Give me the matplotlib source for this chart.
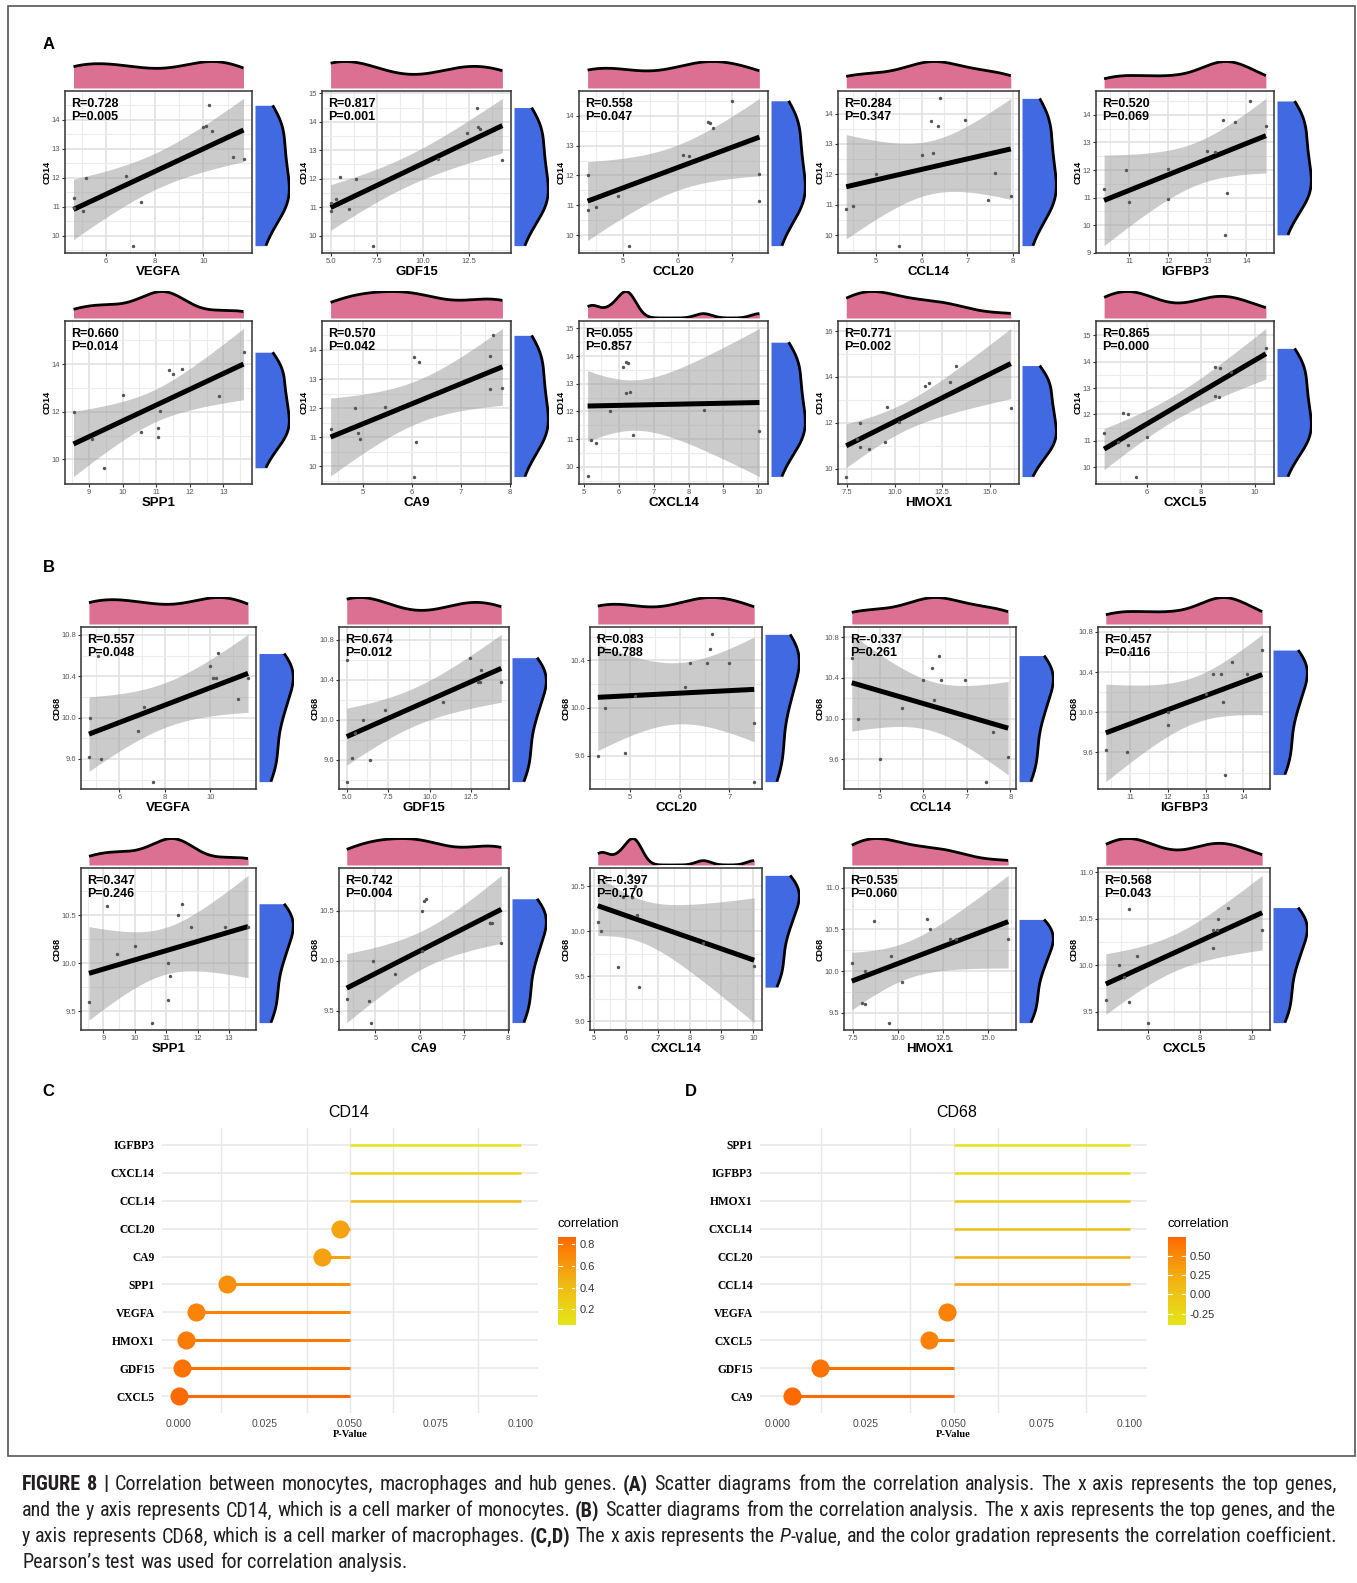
import re
from math import gamma, pi, sqrt

import numpy as np
import matplotlib
matplotlib.use("Agg")
import matplotlib.pyplot as plt
from matplotlib import font_manager
from matplotlib.font_manager import FontProperties
from matplotlib.colors import LinearSegmentedColormap, Normalize
from matplotlib.patches import Rectangle
from matplotlib.ticker import MultipleLocator, FuncFormatter

plt.rcParams["font.family"] = ["Liberation Sans", "DejaVu Sans"]

FIG_W, FIG_H = 1357, 1583

# ---------------------------------------------------------------------------
# Expression values, one entry per sample (same sample order in every list)
# ---------------------------------------------------------------------------
cd14 = [9.65, 10.85, 10.95, 11.15, 11.30, 12.00, 12.05, 12.65, 12.70, 13.60, 13.75, 13.80, 14.50]
cd68 = [10.10, 10.60, 10.00, 9.38, 9.62, 9.60, 9.87, 10.38, 10.18, 10.62, 10.50, 10.38, 10.38]

vegfa = [7.10, 5.07, 4.70, 7.46, 4.67, 5.18, 6.84, 11.65, 11.20, 10.35, 9.97, 10.10, 10.24]
gdf15 = [7.30, 5.00, 6.00, 5.00, 5.30, 6.40, 5.50, 14.30, 10.80, 12.40, 13.10, 13.00, 12.90]
ccl20 = [5.10, 4.35, 4.50, 7.50, 4.90, 4.35, 7.50, 6.20, 6.10, 6.65, 6.60, 6.55, 7.00]
ccl14 = [5.50, 4.35, 4.50, 7.45, 7.95, 5.00, 7.60, 6.00, 6.25, 6.35, 6.20, 6.95, 6.40]
igfbp3 = [13.45, 11.00, 12.00, 13.50, 10.35, 10.90, 12.00, 13.20, 13.00, 14.50, 13.70, 13.40, 14.10]
spp1 = [9.44, 9.10, 11.05, 10.56, 11.05, 8.54, 11.12, 12.88, 10.01, 11.50, 11.37, 11.77, 13.60]
ca9 = [6.05, 6.10, 4.95, 4.90, 4.35, 4.85, 5.45, 7.60, 7.85, 6.15, 6.05, 7.60, 7.65]
cxcl14 = [5.11, 5.34, 5.21, 6.40, 10.03, 5.74, 8.43, 6.20, 6.33, 6.12, 6.27, 6.20, 5.90]
hmox1 = [7.45, 8.66, 8.20, 9.50, 8.00, 8.20, 10.20, 16.10, 9.60, 11.60, 11.80, 12.90, 13.20]
cxcl5 = [5.60, 5.30, 4.90, 6.00, 4.40, 5.30, 5.10, 8.65, 8.50, 9.10, 8.70, 8.50, 10.40]

genes = ["VEGFA", "GDF15", "CCL20", "CCL14", "IGFBP3",
         "SPP1", "CA9", "CXCL14", "HMOX1", "CXCL5"]
gene_values = [vegfa, gdf15, ccl20, ccl14, igfbp3, spp1, ca9, cxcl14, hmox1, cxcl5]
x_tick_step = [2, 2.5, 1, 1, 1, 1, 1, 1, 2.5, 2]

# Pearson statistics printed on each scatter
r_cd14 = [0.728, 0.817, 0.558, 0.284, 0.520, 0.660, 0.570, 0.055, 0.771, 0.865]
p_cd14 = [0.005, 0.001, 0.047, 0.347, 0.069, 0.014, 0.042, 0.857, 0.002, 0.000]
r_cd68 = [0.557, 0.674, 0.083, -0.337, 0.457, 0.347, 0.742, -0.397, 0.535, 0.568]
p_cd68 = [0.048, 0.012, 0.788, 0.261, 0.116, 0.246, 0.004, 0.170, 0.060, 0.043]
y_tick_step_cd14 = [1, 1, 1, 1, 1, 2, 1, 1, 2, 1]
y_tick_step_cd68 = [0.4, 0.4, 0.4, 0.4, 0.4, 0.5, 0.5, 0.5, 0.5, 0.5]

# Lollipop summaries (listed bottom to top)
cd14_rank_genes = ["CXCL5", "GDF15", "HMOX1", "VEGFA", "SPP1", "CA9", "CCL20",
                   "CCL14", "CXCL14", "IGFBP3"]
cd14_rank_p = [0.000, 0.001, 0.002, 0.005, 0.014, 0.042, 0.047, 0.347, 0.857, 0.069]
cd14_rank_corr = [0.865, 0.817, 0.771, 0.728, 0.660, 0.570, 0.558, 0.400, 0.200, 0.055]

cd68_rank_genes = ["CA9", "GDF15", "CXCL5", "VEGFA", "CCL14", "CCL20", "CXCL14",
                   "HMOX1", "IGFBP3", "SPP1"]
cd68_rank_p = [0.004, 0.012, 0.043, 0.048, 0.261, 0.788, 0.170, 0.060, 0.116, 0.246]
cd68_rank_corr = [0.742, 0.674, 0.568, 0.557, 0.300, 0.200, 0.050, -0.100, -0.300, -0.397]

p_axis_ticks = [0.0, 0.025, 0.05, 0.075, 0.1]
cd14_bar_ticks = [0.2, 0.4, 0.6, 0.8]
cd68_bar_ticks = [-0.25, 0.0, 0.25, 0.5]

caption_lines = [
    "**FIGURE 8 |** Correlation between monocytes, macrophages and hub genes. **(A)** Scatter diagrams "
    "from the correlation analysis. The x axis represents the top genes,",
    "and the y axis represents CD14, which is a cell marker of monocytes. **(B)** Scatter diagrams from "
    "the correlation analysis. The x axis represents the top genes, and the",
    "y axis represents CD68, which is a cell marker of macrophages. **(C,D)** The x axis represents the "
    "*P*-value, and the color gradation represents the correlation coefficient.",
    "Pearson\u2019s test was used for correlation analysis.",
]

# ---------------------------------------------------------------------------
PINK = "#DB7093"
BLUE = "#4169E1"
CMAP = LinearSegmentedColormap.from_list("corr", ["#e6e619", "#f2b516", "#ff6a00"])
SERIF = ["Liberation Serif", "DejaVu Serif"]

fig = plt.figure(figsize=(FIG_W / 100, FIG_H / 100), dpi=100)
fig.patch.set_facecolor("white")


def px_axes(x0, y0, x1, y1):
    return fig.add_axes([x0 / FIG_W, 1 - y1 / FIG_H, (x1 - x0) / FIG_W, (y1 - y0) / FIG_H])


def fig_text(x, y, s, **kw):
    return fig.text(x / FIG_W, 1 - y / FIG_H, s, **kw)


def t_quantile(prob, df):
    xs = np.linspace(0, 40, 400001)
    c = gamma((df + 1) / 2) / (sqrt(df * pi) * gamma(df / 2))
    pdf = c * (1 + xs ** 2 / df) ** (-(df + 1) / 2)
    cdf = 0.5 + np.concatenate([[0.0], np.cumsum((pdf[1:] + pdf[:-1]) / 2 * np.diff(xs))])
    return float(np.interp(prob, cdf, xs))


def bw_nrd0(v):
    sd = v.std(ddof=1)
    q75, q25 = np.percentile(v, [75, 25])
    lo = min(sd, (q75 - q25) / 1.34)
    if lo <= 0:
        lo = sd
    return 0.9 * lo * len(v) ** -0.2


def kde(v, grid):
    bw = bw_nrd0(v)
    z = (grid[:, None] - v[None, :]) / bw
    return np.exp(-0.5 * z ** 2).sum(axis=1) / (len(v) * bw * sqrt(2 * pi))


def tick_formatter(step):
    dec = 0 if float(step).is_integer() else 1
    return FuncFormatter(lambda v, _: f"{v:.{dec}f}")


def scatter_panel(box, x, y, xlab, ylab, r, p, xstep, ystep):
    x0, y0, x1, y1 = box
    x = np.asarray(x, float)
    y = np.asarray(y, float)
    n = len(x)

    ax = px_axes(x0, y0, x1, y1)
    slope, intercept = np.polyfit(x, y, 1)
    xs = np.linspace(x.min(), x.max(), 80)
    fit = intercept + slope * xs
    resid = y - (intercept + slope * x)
    s = sqrt((resid ** 2).sum() / (n - 2))
    sxx = ((x - x.mean()) ** 2).sum()
    se = s * np.sqrt(1 / n + (xs - x.mean()) ** 2 / sxx)
    tq = t_quantile(0.975, n - 2)
    lo, hi = fit - tq * se, fit + tq * se

    ax.fill_between(xs, lo, hi, color="#999999", alpha=0.5, lw=0, zorder=2)
    ax.plot(xs, fit, color="black", lw=3.6, zorder=3, solid_capstyle="butt")
    ax.scatter(x, y, s=6, color="#555555", lw=0, zorder=4)

    xr = x.max() - x.min()
    xlim = (x.min() - 0.05 * xr, x.max() + 0.05 * xr)
    ymin, ymax = min(y.min(), lo.min()), max(y.max(), hi.max())
    yr = ymax - ymin
    ylim = (ymin - 0.05 * yr, ymax + 0.05 * yr)
    ax.set_xlim(xlim)
    ax.set_ylim(ylim)

    ax.xaxis.set_major_locator(MultipleLocator(xstep))
    ax.xaxis.set_minor_locator(MultipleLocator(xstep / 2))
    ax.yaxis.set_major_locator(MultipleLocator(ystep))
    ax.yaxis.set_minor_locator(MultipleLocator(ystep / 2))
    ax.xaxis.set_major_formatter(tick_formatter(xstep))
    ax.yaxis.set_major_formatter(tick_formatter(ystep))
    ax.set_axisbelow(True)
    ax.grid(which="major", color="#e2e2e2", lw=1.2)
    ax.grid(which="minor", color="#ececec", lw=0.8)
    ax.tick_params(which="major", length=2.5, width=0.8, color="#333333",
                   labelsize=5.5, labelcolor="#555555", pad=1)
    ax.tick_params(which="minor", length=0)
    for sp in ax.spines.values():
        sp.set_color("#333333")
        sp.set_linewidth(1.1)
    ax.set_xlabel(xlab, fontsize=9.5, fontweight="bold", labelpad=1)
    ax.set_ylabel(ylab, fontsize=6.5, fontweight="bold", labelpad=0)
    ax.text(0.035, 0.955, f"R={r:.3f}\nP={p:.3f}", transform=ax.transAxes,
            ha="left", va="top", fontsize=9, fontweight="bold", linespacing=1.1, zorder=6)

    # marginal density along x
    axt = px_axes(x0, y0 - 30, x1, y0 - 3)
    gx = np.linspace(x.min(), x.max(), 256)
    dx = kde(x, gx)
    axt.fill_between(gx, 0, dx, color=PINK, lw=0)
    axt.plot(gx, dx, color="black", lw=2.0, solid_capstyle="butt")
    axt.set_xlim(xlim)
    axt.set_ylim(0, dx.max() * 1.02)
    axt.axis("off")

    # marginal density along y
    axr = px_axes(x1 + 3, y0, x1 + 38, y1)
    gy = np.linspace(y.min(), y.max(), 256)
    dy = kde(y, gy)
    axr.fill_betweenx(gy, 0, dy, color=BLUE, lw=0)
    axr.plot(dy, gy, color="black", lw=2.0, solid_capstyle="butt")
    axr.set_ylim(ylim)
    axr.set_xlim(0, dy.max() * 1.02)
    axr.axis("off")


# ---------------------------------------------------------------------------
# Scatter grids
# ---------------------------------------------------------------------------
row_boxes = [(91, 253), (321, 484), (627, 789), (868, 1030)]
cols_a = [(65, 252), (322, 511), (579, 768), (838, 1019), (1096, 1274)]
cols_b = [(81, 256), (339, 509), (590, 762), (844, 1016), (1098, 1270)]

for row in range(4):
    marker_name = "CD14" if row < 2 else "CD68"
    marker = cd14 if row < 2 else cd68
    rr = r_cd14 if row < 2 else r_cd68
    pp = p_cd14 if row < 2 else p_cd68
    ysteps = y_tick_step_cd14 if row < 2 else y_tick_step_cd68
    cols = cols_a if row < 2 else cols_b
    top, bottom = row_boxes[row]
    for c in range(5):
        g = (row % 2) * 5 + c
        scatter_panel((cols[c][0], top, cols[c][1], bottom), gene_values[g], marker,
                      genes[g], marker_name, rr[g], pp[g], x_tick_step[g], ysteps[g])

# ---------------------------------------------------------------------------
# Lollipop summaries
# ---------------------------------------------------------------------------


def lollipop(x0, x1, names, pvals, corr, title, title_x, cbar_x, bar_ticks, bar_dec):
    ax = px_axes(x0, 1128, x1, 1413)
    norm = Normalize(min(corr), max(corr))
    ypos = np.arange(len(names))
    for yv in ypos:
        ax.axhline(yv, color="#ebebeb", lw=1.3, zorder=0)
    for xv in [0.0125, 0.0375, 0.05, 0.0625, 0.0875]:
        ax.axvline(xv, color="#e8e8e8", lw=1.0, zorder=0)
    for yv, p, cval in zip(ypos, pvals, corr):
        col = CMAP(norm(cval))
        if p < 0.05:
            ax.plot([p, 0.05], [yv, yv], color=col, lw=2.2, solid_capstyle="butt", zorder=2)
            ax.scatter([p], [yv], s=170, color=col, lw=0, zorder=3)
        else:
            ax.plot([0.05, 0.1], [yv, yv], color=col, lw=1.8, solid_capstyle="butt", zorder=2)
    ax.set_xlim(-0.005, 0.105)
    ax.set_ylim(-0.6, len(names) - 0.4)
    ax.set_xticks(p_axis_ticks)
    ax.set_xticklabels([f"{v:.3f}" for v in p_axis_ticks])
    ax.set_yticks(ypos)
    ax.set_yticklabels(names, family=SERIF, fontweight="bold", fontsize=8.3)
    ax.tick_params(axis="x", length=0, labelsize=7.5, labelcolor="#4d4d4d", pad=4)
    ax.tick_params(axis="y", length=0, pad=5)
    for sp in ax.spines.values():
        sp.set_visible(False)
    ax.set_xlabel("P-Value", family=SERIF, fontweight="bold", fontsize=7.5, labelpad=1)
    fig_text(title_x, 1112.5, title, ha="center", va="center", fontsize=11.5)

    fig_text(cbar_x, 1223.6, "correlation", ha="left", va="center", fontsize=9.5)
    cax = px_axes(cbar_x, 1237, cbar_x + 17.5, 1325)
    vmin, vmax = min(corr), max(corr)
    cax.imshow(np.linspace(0, 1, 256)[:, None], aspect="auto", cmap=CMAP, origin="lower",
               extent=[0, 1, vmin, vmax])
    for v in bar_ticks:
        cax.plot([0, 0.2], [v, v], color="white", lw=0.8)
        cax.plot([0.8, 1], [v, v], color="white", lw=0.8)
    cax.set_xlim(0, 1)
    cax.set_ylim(vmin, vmax)
    cax.set_xticks([])
    cax.yaxis.tick_right()
    cax.set_yticks(bar_ticks)
    cax.set_yticklabels([f"{v:.{bar_dec}f}" for v in bar_ticks])
    cax.tick_params(axis="y", length=0, labelsize=8, labelcolor="#333333", pad=3)
    for sp in cax.spines.values():
        sp.set_visible(False)


lollipop(161.6, 538.1, cd14_rank_genes, cd14_rank_p, cd14_rank_corr, "CD14", 349,
         558, cd14_bar_ticks, 1)
lollipop(759.8, 1147.3, cd68_rank_genes, cd68_rank_p, cd68_rank_corr, "CD68", 957,
         1168, cd68_bar_ticks, 2)

# panel letters
for letter, (lx, ly) in {"A": (48.5, 44.5), "B": (48.5, 568), "C": (48.5, 1092),
                         "D": (690.6, 1092)}.items():
    fig_text(lx, ly, letter, ha="center", va="center", fontsize=12, fontweight="bold")

# frame around the figure area
fig.add_artist(Rectangle((8 / FIG_W, 1 - 1456 / FIG_H), (1355 - 8) / FIG_W, (1456 - 6) / FIG_H,
                         transform=fig.transFigure, fill=False, lw=1.2, ec="#555555"))

# ---------------------------------------------------------------------------
# Caption with mixed styles, justified to the text block width
# ---------------------------------------------------------------------------


def weight_num(w):
    if isinstance(w, (int, float)):
        return float(w)
    return {"normal": 400, "regular": 400, "book": 400, "medium": 500,
            "bold": 700}.get(str(w).lower(), 400)


def narrow_faces():
    """Regular / bold / italic files of a narrow sans family, if one is installed."""
    groups = {}
    for f in font_manager.fontManager.ttflist:
        narrow = ("Narrow" in f.name or "Condensed" in f.name
                  or str(f.stretch) in ("condensed", "semi-condensed", "extra-condensed"))
        if not narrow or "Mono" in f.name or "Serif" in f.name:
            continue
        key = (f.name, str(f.stretch))
        groups.setdefault(key, []).append(f)
    prefer = ["Liberation Sans Narrow", "Roboto Condensed", "Open Sans Condensed",
              "Noto Sans", "DejaVu Sans", "Open Sans", "Roboto"]
    for pname in prefer:
        for (name, stretch), faces in groups.items():
            if not name.startswith(pname):
                continue
            pick = {}
            for f in faces:
                w = weight_num(f.weight)
                st = f.style
                if st == "normal" and 350 <= w <= 450:
                    pick.setdefault("n", f.fname)
                elif st == "normal" and 650 <= w <= 750:
                    pick.setdefault("b", f.fname)
                elif st in ("italic", "oblique") and 350 <= w <= 450:
                    pick.setdefault("i", f.fname)
            if "n" in pick:
                pick.setdefault("b", pick["n"])
                pick.setdefault("i", pick["n"])
                return pick
    return None


faces = narrow_faces()


def cap_props(st, size):
    if faces is not None:
        return dict(fontproperties=FontProperties(fname=faces[st], size=size))
    extra = {"n": {}, "b": {"weight": "bold"}, "i": {"style": "italic"}}[st]
    return dict(fontproperties=FontProperties(family=["Liberation Sans", "DejaVu Sans"],
                                              size=size, **extra))


def parse_words(line):
    pieces = []
    for m in re.finditer(r"\*\*(.+?)\*\*|\*(.+?)\*|([^*]+)", line):
        if m.group(1) is not None:
            pieces.append((m.group(1), "b"))
        elif m.group(2) is not None:
            pieces.append((m.group(2), "i"))
        else:
            pieces.append((m.group(3), "n"))
    words, cur = [], []
    for text, st in pieces:
        parts = text.split(" ")
        for k, part in enumerate(parts):
            if k > 0:
                if cur:
                    words.append(cur)
                cur = []
            if part:
                cur.append((part, st))
    if cur:
        words.append(cur)
    return words


renderer = fig.canvas.get_renderer()


def text_width(s, st, size):
    t = fig.text(0, 0, s, **cap_props(st, size))
    w = t.get_window_extent(renderer).width
    t.remove()
    return w


BASE = 12.0
CAP_LEFT, CAP_RIGHT = 22, 1336
parsed = [parse_words(l) for l in caption_lines]
space_w = text_width("x x", "n", BASE) - text_width("xx", "n", BASE)
nat = []
for words in parsed[:-1]:
    tot = sum(text_width(s, st, BASE) for w in words for s, st in w)
    nat.append(tot + space_w * (len(words) - 1))
scale = (CAP_RIGHT - CAP_LEFT) / max(nat) * 0.995
size = min(BASE * scale, 15.0)
space_w *= size / BASE

for li, (words, yc) in enumerate(zip(parsed, [1485, 1511, 1537, 1563])):
    widths = [[text_width(s, st, size) for s, st in w] for w in words]
    total = sum(sum(ws) for ws in widths)
    if li < len(parsed) - 1 and len(words) > 1:
        gap = (CAP_RIGHT - CAP_LEFT - total) / (len(words) - 1)
    else:
        gap = space_w
    x = CAP_LEFT
    for w, ws in zip(words, widths):
        for (s, st), wd in zip(w, ws):
            fig_text(x, yc, s, ha="left", va="center", color="#231f20", **cap_props(st, size))
            x += wd
        x += gap

fig.savefig("out.png", dpi=100, facecolor="white")
